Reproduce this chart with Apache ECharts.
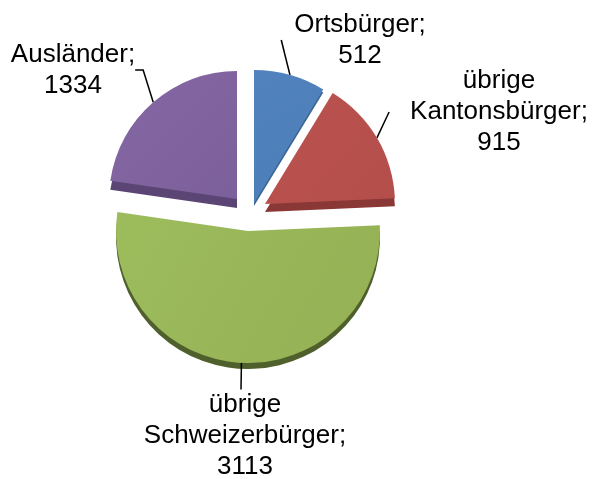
<!DOCTYPE html>
<html>
<head>
<meta charset="utf-8">
<style>
  html, body { margin: 0; padding: 0; background: #fff; }
  #main { width: 592px; height: 479px; }
</style>
<script src="https://cdn.jsdelivr.net/npm/echarts@6/dist/echarts.min.js"></script>
</head>
<body>
<div id="main"></div>
<script>
  var categories = ['Ortsbürger', 'übrige\nKantonsbürger', 'übrige\nSchweizerbürger', 'Ausländer'];
  var values = [512, 915, 3113, 1334];

  var topColors = [['#5182bd', '#4c7eb8'], ['#bb5350', '#b34e4b'], ['#9dbc5c', '#94b155'], ['#8467a3', '#7c609b']];
  var sideColors = ['#3b6593', '#8a3836', '#4f602c', '#5b4575'];
  // exploded slices, every one has its own centre
  var centers = [[254, 203], [265, 204], [248, 231], [237, 199]];
  var radii = [133, 130, 132, 128];
  var depths = [3, 8, 6, 9];
  var labelPos = [[353.5, 40], [488.5, 112], [241, 436], [73, 70]];
  // left padding stretches the label box so the leader line stops where it should
  var labelPadLeft = [13, 21, 8, 0];
  var lineLen2 = [0, 0, 0, 8];

  function sliceData(idx, color, withLabel) {
    return categories.map(function (name, i) {
      if (i !== idx) {
        return {
          name: name, value: values[i],
          itemStyle: { color: 'transparent' },
          label: { show: false }, labelLine: { show: false }
        };
      }
      return {
        name: name, value: values[i],
        itemStyle: { color: color },
        label: { show: withLabel, padding: [0, 0, 0, labelPadLeft[i]] },
        labelLine: { show: withLabel, length2: lineLen2[i] }
      };
    });
  }

  function pieSeries(idx, color, dy, withLabel, z) {
    return {
      type: 'pie',
      center: [centers[idx][0], centers[idx][1] + dy],
      radius: [0, radii[idx]],
      startAngle: 90,
      clockwise: true,
      silent: true,
      z: z,
      avoidLabelOverlap: false,
      data: sliceData(idx, color, withLabel),
      label: {
        position: 'outside',
        formatter: '{b};\n{c}',
        color: '#000',
        fontFamily: 'Liberation Sans',
        fontSize: 26,
        lineHeight: 31,
        align: 'center'
      },
      labelLine: {
        length: 20,
        lineStyle: { color: '#000', width: 1.5 }
      },
      labelLayout: function () {
        return {
          x: labelPos[idx][0],
          y: labelPos[idx][1],
          align: 'center',
          verticalAlign: 'middle'
        };
      }
    };
  }

  var series = [];
  categories.forEach(function (c, i) {
    series.push(pieSeries(i, sideColors[i], depths[i], false, 1));
  });
  categories.forEach(function (c, i) {
    series.push(pieSeries(i, {
      type: 'linear', x: 0, y: 0, x2: 1, y2: 1,
      colorStops: [
        { offset: 0, color: topColors[i][0] },
        { offset: 1, color: topColors[i][1] }
      ]
    }, 0, true, 2));
  });

  var chart = echarts.init(document.getElementById('main'));
  chart.setOption({
    animation: false,
    backgroundColor: '#fff',
    series: series
  });
</script>
</body>
</html>
